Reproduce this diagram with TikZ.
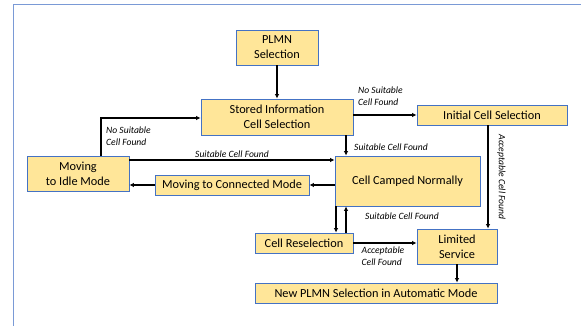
\documentclass[tikz,border=0pt]{standalone}
\usepackage{fontspec}
\setmainfont{Carlito}
\usetikzlibrary{arrows.meta}
\definecolor{boxfill}{HTML}{FFE699}
\definecolor{boxline}{HTML}{4472C4}
\definecolor{frameline}{HTML}{7A9AD6}
\begin{document}
\begin{tikzpicture}[x=1pt,y=-1pt,
  box/.style={draw=boxline,fill=boxfill,line width=0.8pt,inner sep=0pt,align=center,font=\fontsize{12.3}{15}\selectfont},
  conn/.style={line width=1.5pt,-{Latex[length=4.5pt,width=4.5pt]}},
  lbl/.style={font=\fontsize{9.6}{12}\selectfont\itshape,inner sep=0pt,align=left}]
\useasboundingbox (0,0) rectangle (581,326);
\begin{scope}
\clip (0,0) rectangle (581,326);
\draw[frameline,line width=0.9pt] (13,4) rectangle (600,340);
\end{scope}
% boxes
\node[box,minimum width=82pt,minimum height=35pt] (plmn) at (277,47.5) {PLMN\\Selection};
\node[box,minimum width=152pt,minimum height=36pt] (stored) at (277,117) {Stored Information\\Cell Selection};
\node[box,minimum width=150pt,minimum height=20pt] (init) at (492,115) {Initial Cell Selection};
\node[box,minimum width=102pt,minimum height=35pt] (idle) at (78,173.5) {Moving\\to Idle Mode};
\node[box,minimum width=154pt,minimum height=20pt] (conn) at (232,185) {Moving to Connected Mode};
\node[box,minimum width=145pt,minimum height=50pt] (camped) at (407.5,181) {Cell Camped Normally};
\node[box,minimum width=98pt,minimum height=20pt] (resel) at (304,243) {Cell Reselection};
\node[box,minimum width=80pt,minimum height=35pt] (limited) at (457,246.5) {Limited\\Service};
\node[box,minimum width=242pt,minimum height=20pt] (newplmn) at (376,293) {New PLMN Selection in Automatic Mode};
% connectors
\draw[conn] (plmn.south) -- (stored.north);
\coordinate (bend) at (101,118);
\draw[conn] (idle.north -| bend) -- (bend) -- (stored.west |- bend);
\node[lbl,anchor=north west] at (106,127) {No Suitable\\Cell Found};
\draw[conn] (stored.east |- init.west) -- (init.west);
\node[lbl,anchor=south west] at (358,106) {No Suitable\\Cell Found};
\coordinate (sc) at (346,0);
\draw[conn] (stored.south -| sc) -- (camped.north -| sc);
\node[lbl,anchor=west] at (354,147) {Suitable Cell Found};
\coordinate (ic) at (0,160);
\draw[conn] (idle.east |- ic) -- (camped.west |- ic);
\node[lbl,anchor=south] at (232,158) {Suitable Cell Found};
\draw[conn] (camped.west |- conn.east) -- (conn.east);
\draw[conn] (conn.west) -- (idle.east |- conn.west);
\coordinate (ac) at (488,0);
\draw[conn] (init.south -| ac) -- (limited.north -| ac);
\node[lbl,rotate=-90,anchor=south] at (497,177) {Acceptable Cell Found};
\coordinate (d1) at (336,0);
\coordinate (d2) at (346,0);
\draw[conn] (camped.south -| d1) -- (resel.north -| d1);
\draw[conn] (resel.north -| d2) -- (camped.south -| d2);
\node[lbl,anchor=center] at (402,216) {Suitable Cell Found};
\draw[conn] (resel.east) -- (limited.west |- resel.east);
\node[lbl,anchor=north] at (383,247) {Acceptable\\Cell Found};
\draw[conn] (limited.south) -- (limited.south |- newplmn.north);
\end{tikzpicture}
\end{document}
